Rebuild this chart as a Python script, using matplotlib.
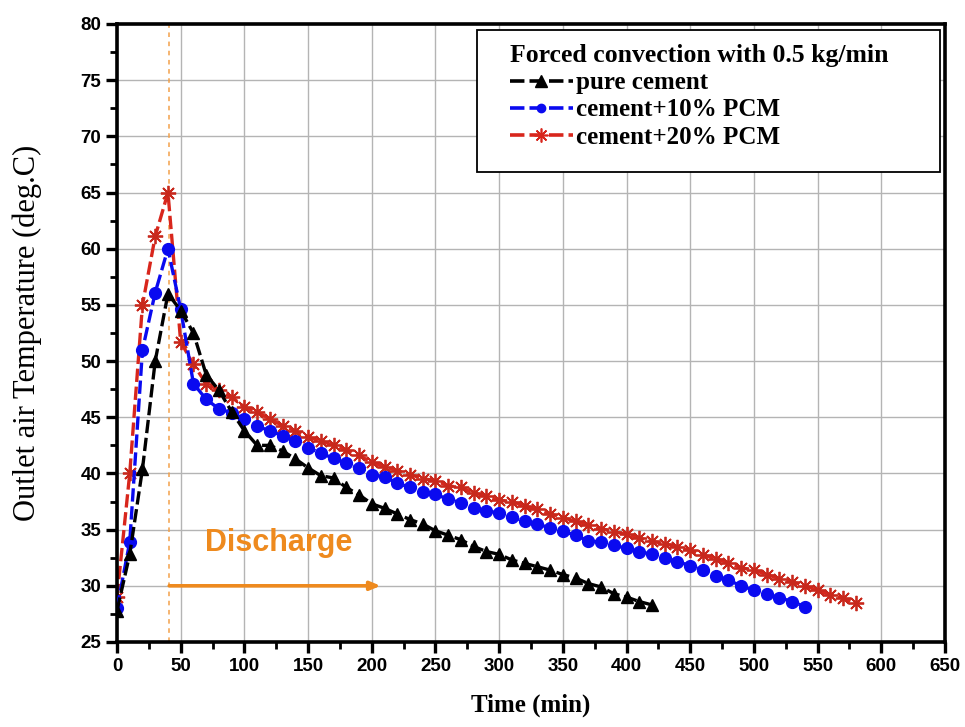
import matplotlib
matplotlib.use("Agg")
import matplotlib.pyplot as plt
from matplotlib import font_manager
from matplotlib.ticker import MultipleLocator
from matplotlib.lines import Line2D
from matplotlib.patches import Rectangle

# ---- data: outlet air temperature (deg C) every 10 minutes ----
t_pure = list(range(0, 430, 10))
T_pure = [27.8, 32.8, 40.4, 50.0, 56.0, 54.5, 52.5, 48.8, 47.4, 45.5,
          43.8, 42.5, 42.5, 42.0, 41.3, 40.5, 39.8, 39.6, 38.75, 38.1,
          37.3, 36.9, 36.4, 35.9, 35.5, 34.9, 34.5, 34.1, 33.5, 33.05,
          32.8, 32.3, 32.0, 31.7, 31.4, 31.0, 30.7, 30.2, 29.9, 29.3,
          29.0, 28.6, 28.3]

t_pcm10 = list(range(0, 550, 10))
T_pcm10 = [28.0, 33.9, 51.0, 56.1, 60.0, 54.6, 48.0, 46.6, 45.75, 45.4,
           44.85, 44.2, 43.8, 43.35, 42.9, 42.3, 41.8, 41.35, 40.9, 40.45,
           39.9, 39.7, 39.15, 38.75, 38.35, 38.15, 37.7, 37.4, 36.95, 36.65,
           36.5, 36.1, 35.75, 35.5, 35.15, 34.85, 34.5, 34.0, 33.9, 33.6,
           33.35, 33.05, 32.8, 32.5, 32.15, 31.8, 31.4, 30.9, 30.5, 30.0,
           29.6, 29.25, 28.95, 28.6, 28.15]

t_pcm20 = list(range(0, 590, 10))
T_pcm20 = [29.0, 40.0, 55.0, 61.1, 65.0, 51.7, 49.7, 48.0, 47.4, 46.8,
           45.9, 45.45, 44.85, 44.25, 43.8, 43.2, 42.9, 42.5, 42.1, 41.6,
           41.0, 40.6, 40.25, 39.9, 39.55, 39.35, 38.9, 38.75, 38.25, 38.0,
           37.6, 37.5, 37.1, 36.8, 36.4, 36.05, 35.75, 35.4, 35.1, 34.8,
           34.6, 34.25, 33.95, 33.75, 33.45, 33.15, 32.75, 32.4, 32.05, 31.6,
           31.4, 31.0, 30.65, 30.35, 30.0, 29.6, 29.2, 28.9, 28.45]

series_labels = ["pure cement", "cement+10% PCM", "cement+20% PCM"]
legend_title = "Forced convection with 0.5 kg/min"
x_label = "Time (min)"
y_label = "Outlet air Temperature (deg.C)"
discharge_start = 41
discharge_end = 207
discharge_level = 30
discharge_text = "Discharge"

# ---- fonts ----
installed = {f.name for f in font_manager.fontManager.ttflist}
serif = "Liberation Serif" if "Liberation Serif" in installed else "DejaVu Serif"
sans = "Liberation Sans" if "Liberation Sans" in installed else "DejaVu Sans"
narrow = "Liberation Sans Narrow" if "Liberation Sans Narrow" in installed else sans

W, H = 965, 727
L, R, T, B = 117, 945, 24, 642
fig = plt.figure(figsize=(W / 100, H / 100), dpi=100)
ax = fig.add_axes([L / W, 1 - B / H, (R - L) / W, (B - T) / H])


def ax_x(px):
    return (px - L) / (R - L)


def ax_y(py):
    return (B - py) / (B - T)


dash = (0, (4, 1.4))
ax.plot(t_pure, T_pure, color="black", lw=2.4, linestyle=dash, marker="^",
        markersize=9, markerfacecolor="black", markeredgecolor="black", zorder=4)
ax.plot(t_pcm10, T_pcm10, color="#0a0af0", lw=2.4, linestyle=dash, marker="o",
        markersize=8.5, markerfacecolor="#0a0af0", markeredgecolor="#0a0af0", zorder=3)
ax.plot(t_pcm20, T_pcm20, color="#d8261c", lw=2.4, linestyle=dash, marker=(8, 2, 0),
        markersize=11, markeredgewidth=1.3, markerfacecolor="#d8261c",
        markeredgecolor="#c8281c", zorder=2)

# discharge marker line and arrow
ax.axvline(discharge_start, color="#f2a04a", lw=1.1, linestyle=(0, (3, 3)), zorder=1)
ax.annotate("", xy=(discharge_end, discharge_level),
            xytext=(discharge_start, discharge_level),
            arrowprops=dict(arrowstyle="-|>,head_length=0.6,head_width=0.25",
                            color="#ee8a1e", lw=2.6, shrinkA=0, shrinkB=0), zorder=2)
ax.text(69, 33.8, discharge_text, color="#ee8a1e", fontsize=22, fontweight="bold",
        family=sans, va="center", ha="left", zorder=2)

ax.set_xlim(0, 650)
ax.set_ylim(25, 80)
ax.xaxis.set_major_locator(MultipleLocator(50))
ax.xaxis.set_minor_locator(MultipleLocator(25))
ax.yaxis.set_major_locator(MultipleLocator(5))
ax.yaxis.set_minor_locator(MultipleLocator(2.5))
ax.grid(True, which="major", color="#b4b4b4", lw=1.0)
ax.set_axisbelow(True)

for s in ax.spines.values():
    s.set_linewidth(2.6)
ax.tick_params(which="major", direction="out", length=8, width=2.4,
               top=False, right=False)
ax.tick_params(which="minor", direction="out", length=5, width=2.0,
               top=False, right=False)
for lab in ax.get_xticklabels():
    lab.set_fontfamily(narrow)
    lab.set_fontweight("bold")
    lab.set_fontsize(13.5)
for lab in ax.get_yticklabels():
    lab.set_fontfamily(sans)
    lab.set_fontweight("bold")
    lab.set_fontsize(13.5)

ax.set_xlabel(x_label, family=serif, fontweight="bold", fontsize=18)
ax.xaxis.set_label_coords(0.5, ax_y(694))
ax.set_ylabel(y_label, family=serif, fontsize=22)
ax.yaxis.set_label_coords(ax_x(42), 0.5)

# legend: frame drawn as its own rectangle, entries placed inside it
frame = Rectangle((ax_x(477), ax_y(172)), ax_x(940) - ax_x(477), ax_y(30) - ax_y(172),
                  transform=ax.transAxes, facecolor="white", edgecolor="black",
                  lw=1.3, zorder=5)
ax.add_patch(frame)
handles = [
    Line2D([], [], color="black", lw=2.6, linestyle=dash, marker="^", markersize=9),
    Line2D([], [], color="#0a0af0", lw=2.6, linestyle=dash, marker="o", markersize=6),
    Line2D([], [], color="#d8261c", lw=2.6, linestyle=dash, marker=(8, 2, 0),
           markersize=10, markeredgewidth=1.2),
]
leg = ax.legend(handles, series_labels, title=legend_title,
                loc="upper left", bbox_to_anchor=(ax_x(510), ax_y(44)),
                borderaxespad=0, borderpad=0, alignment="left",
                handlelength=2.5, handletextpad=0.15, labelspacing=0.17,
                prop=dict(family=serif, weight="bold", size=18),
                title_fontproperties=dict(family=serif, weight="bold", size=18.5),
                frameon=False)
leg.set_zorder(6)

fig.savefig("out.png", dpi=100)
